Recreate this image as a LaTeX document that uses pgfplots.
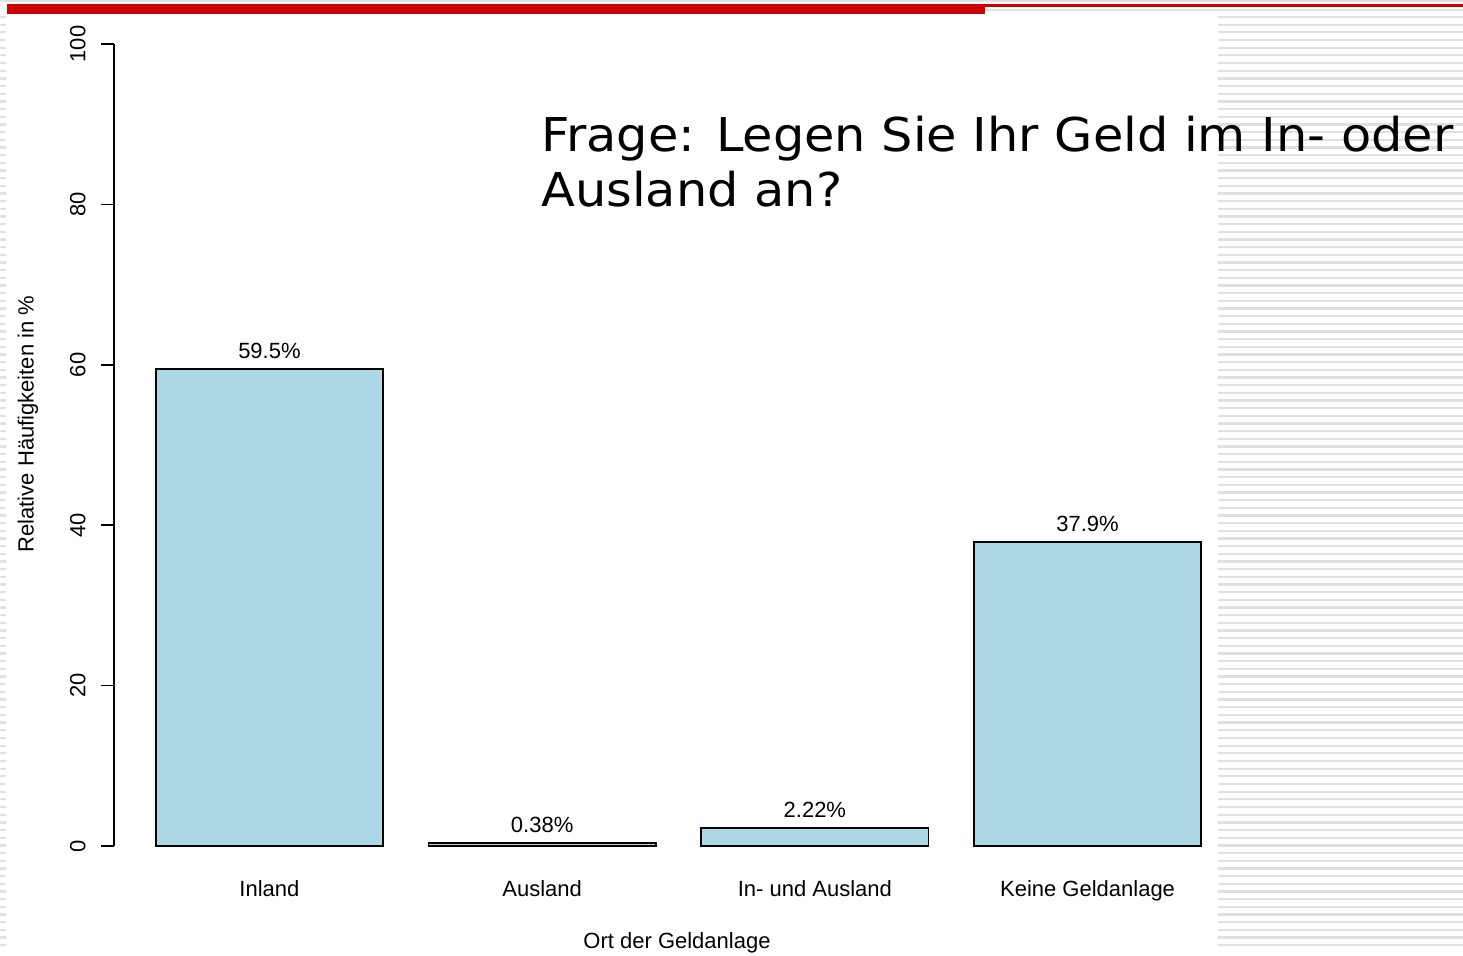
\documentclass[border=0pt]{standalone}
\usepackage{fontspec}
\setmainfont{Liberation Sans}
\newfontfamily\titlefont{DejaVu Sans}
\usepackage{graphicx}
\usepackage{pgfplots}
\usepackage{pgfplotstable}
\pgfplotsset{compat=1.18}
\definecolor{barblue}{RGB}{173,216,230}
\definecolor{slidered}{RGB}{204,0,0}
\definecolor{stripe}{RGB}{224,224,224}

\pgfplotstableread{
x val lab
0.7 59.5 59.5
1.9 0.38 0.38
3.1 2.22 2.22
4.3 37.9 37.9
}\datatable

\newlength\tw
\begin{document}
\settowidth\tw{\titlefont\fontsize{23.3}{28}\selectfont Frage: Legen Sie Ihr Geld im In- oder}%
\pgfmathsetmacro{\sx}{456/\tw}%
\begin{tikzpicture}
\path[use as bounding box, fill=white] (0,0) rectangle (731.5pt,477.5pt);
% slide decoration: stripes
\foreach \i in {0,...,121}{
  \draw[stripe, line width=1.15pt] (609pt,{469pt-\i*3.835pt}) -- (731.5pt,{469pt-\i*3.835pt});
  \draw[stripe, line width=1.15pt] (0pt,{469pt-\i*3.835pt}) -- (3.2pt,{469pt-\i*3.835pt});
}
\draw[stripe, line width=1pt] (0,477pt) -- (731.5pt,477pt);
\draw[stripe, line width=1pt] (492.5pt,472.5pt) -- (731.5pt,472.5pt);
\fill[slidered] (3.5pt,470.5pt) rectangle (492.5pt,475.5pt);
\fill[slidered] (492.5pt,474pt) rectangle (731.5pt,475.5pt);

\begin{axis}[
  at={(57pt,54.5pt)}, anchor=south west,
  scale only axis, width=564.5pt, height=401pt,
  xmin=0.016, xmax=4.984, ymin=0, ymax=100,
  axis lines*=left,
  x axis line style={draw=none},
  xtick style={draw=none},
  y axis line style={line width=0.75pt, black},
  ytick style={line width=0.75pt, black},
  tick align=outside, major tick length=6.5pt,
  ytick={0,20,40,60,80,100},
  xtick={0.7,1.9,3.1,4.3},
  xticklabels={Inland, Ausland, In- und Ausland, Keine Geldanlage},
  /pgf/number format/assume math mode=true,
  ticklabel style={font=\fontsize{11}{13}\selectfont, text=black},
  yticklabel style={rotate=90, anchor=base},
  yticklabel shift=7.75pt,
  xticklabel style={anchor=base},
  xticklabel shift=18.75pt,
  ybar, bar width=1,
  clip=false,
]
\addplot[fill=barblue, draw=black, line width=0.75pt,
  point meta=explicit symbolic,
  nodes near coords={\pgfplotspointmeta\%},
  every node near coord/.append style={anchor=base, yshift=5.25pt,
     font=\fontsize{11}{13}\selectfont, text=black}]
  table[x=x, y=val, meta=lab]{\datatable};
\end{axis}

\node[rotate=90, anchor=base, font=\fontsize{11}{13}\selectfont] at (16.75pt,265.5pt) {Relative Häufigkeiten in \%};
\node[anchor=base, font=\fontsize{11}{13}\selectfont] at (338.5pt,3.25pt) {Ort der Geldanlage};

\node[anchor=base west, inner sep=0pt] at (270.5pt,401.5pt)
  {\scalebox{\sx}[1]{\titlefont\fontsize{23.3}{28}\selectfont Frage: Legen Sie Ihr Geld im In- oder}};
\node[anchor=base west, inner sep=0pt] at (270.5pt,374pt)
  {\scalebox{\sx}[1]{\titlefont\fontsize{23.3}{28}\selectfont Ausland an?}};
\end{tikzpicture}
\end{document}
